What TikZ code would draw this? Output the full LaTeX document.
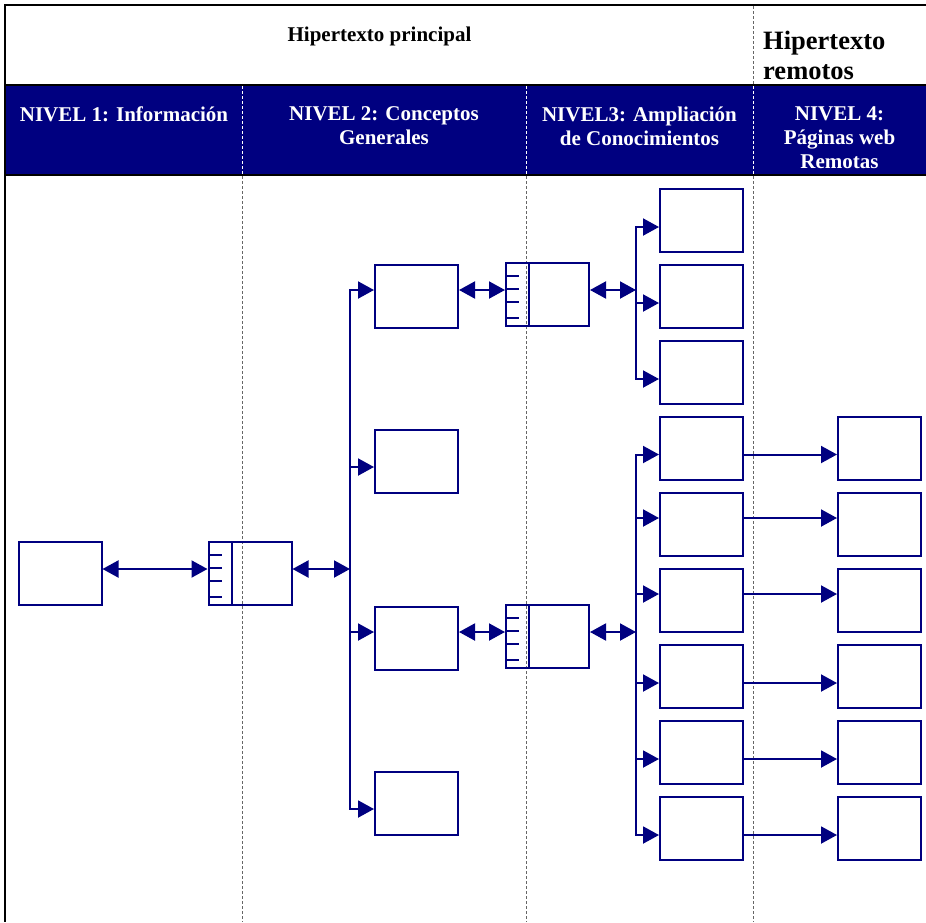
\documentclass[tikz,border=0pt]{standalone}
\usepackage{fontspec}
\setmainfont{Liberation Serif}
\usetikzlibrary{arrows.meta}
\definecolor{nivel}{RGB}{0,0,128}

\begin{document}
\begin{tikzpicture}[
    x=1pt, y=-1pt,
    font=\bfseries\fontsize{21}{24}\selectfont,
    >={Triangle[length=16pt,width=17pt]},
    pagebox/.style={draw=nivel, line width=2pt, minimum width=83pt,
        minimum height=63pt, inner sep=0pt},
    tabbox/.style={pagebox, path picture={
        \draw[nivel, line width=2pt] ([xshift=23pt]path picture bounding box.north west)
            -- ([xshift=23pt]path picture bounding box.south west);
        \foreach \ty in {13,26,39,55}
            \draw[nivel, line width=2pt] ([yshift=-\ty pt]path picture bounding box.north west) -- ++(13pt,0pt);
    }},
    link/.style={->, draw=nivel, line width=2pt},
    dlink/.style={<->, draw=nivel, line width=2pt},
    sep/.style={black!60, line width=0.8pt, dash pattern=on 3pt off 2pt},
    lvl/.style={text=white, align=center, inner sep=0pt},
]
\useasboundingbox (0,0) rectangle (926,922);

% === FRAME AND HEADER ===
\fill[nivel] (5,85) rectangle (926,175);
\draw[line width=2pt] (926,5) -- (5,5) -- (5,922);
\draw[line width=2pt] (5,85) -- (926,85);
\draw[line width=2pt] (5,175) -- (926,175);
\draw[sep] (753,6) -- (753,84);
\foreach \sx in {242,526,753} {
    \draw[sep, white] (\sx,86) -- (\sx,174);
    \draw[sep] (\sx,176) -- (\sx,922);
}

\node (principal) at (379.5,36) {Hipertexto principal};
\node[anchor=west, align=left, inner sep=0pt, font=\bfseries\fontsize{26.5}{30}\selectfont]
    (remotos) at (763,55) {Hipertexto\\remotos};

\node[lvl] (nivel1) at (124,114) {NIVEL 1: Información};
\node[lvl] (nivel2) at (384,126) {NIVEL 2: Conceptos\\Generales};
\node[lvl] (nivel3) at (639.5,126) {NIVEL3: Ampliación\\de Conocimientos};
\node[lvl] (nivel4) at (839.5,138) {NIVEL 4:\\Páginas web\\Remotas};

% === NIVEL 1 ===
\node[pagebox] (info) at (60,573) {};
\node[tabbox] (indice) at (250,573) {};
\coordinate (j2) at (350,569);
\draw[dlink] ([yshift=4pt]info.east) -- ([yshift=4pt]indice.west);
\draw[dlink] ([yshift=4pt]indice.east) -- (j2);

% === NIVEL 2 ===
\node[pagebox] (g1) at (416.5,296.5) {};
\node[pagebox] (g2) at (416.5,461.5) {};
\node[pagebox] (g3) at (416.5,638.5) {};
\node[pagebox] (g4) at (416.5,803.5) {};
\draw[link] (j2) |- ([yshift=6.5pt]g1.west);
\draw[link] (j2) |- ([yshift=-5.5pt]g2.west);
\draw[link] (j2) |- ([yshift=6.5pt]g3.west);
\draw[link] (j2) |- ([yshift=-5.5pt]g4.west);

% === NIVEL 3 ===
\node[tabbox] (t1) at (547.5,294.5) {};
\node[tabbox] (t2) at (547.5,636) {};
\coordinate (j3a) at (636,290);
\coordinate (j3b) at (636,632);
\draw[dlink] ([yshift=6.5pt]g1.east) -- ([yshift=4.5pt]t1.west);
\draw[dlink] ([yshift=4.5pt]t1.east) -- (j3a);
\draw[dlink] ([yshift=6.5pt]g3.east) -- ([yshift=4pt]t2.west);
\draw[dlink] ([yshift=4pt]t2.east) -- (j3b);

\node[pagebox] (c1) at (701.5,220.5) {};
\node[pagebox] (c2) at (701.5,296.5) {};
\node[pagebox] (c3) at (701.5,372.5) {};
\node[pagebox] (c4) at (701.5,448.5) {};
\node[pagebox] (c5) at (701.5,524.5) {};
\node[pagebox] (c6) at (701.5,600.5) {};
\node[pagebox] (c7) at (701.5,676.5) {};
\node[pagebox] (c8) at (701.5,752.5) {};
\node[pagebox] (c9) at (701.5,828.5) {};
\draw[link] (j3a) |- ([yshift=-6.5pt]c1.west);
\draw[link] (j3a) |- ([yshift=-6.5pt]c2.west);
\draw[link] (j3a) |- ([yshift=-6.5pt]c3.west);
\draw[link] (j3b) |- ([yshift=-6pt]c4.west);
\draw[link] (j3b) |- ([yshift=6.5pt]c5.west);
\draw[link] (j3b) |- ([yshift=6.5pt]c6.west);
\draw[link] (j3b) |- ([yshift=-6.5pt]c7.west);
\draw[link] (j3b) |- ([yshift=-6.5pt]c8.west);
\draw[link] (j3b) |- ([yshift=-6.5pt]c9.west);

% === NIVEL 4: remote pages ===
\node[pagebox] (r1) at (879.5,448.5) {};
\node[pagebox] (r2) at (879.5,524.5) {};
\node[pagebox] (r3) at (879.5,600.5) {};
\node[pagebox] (r4) at (879.5,676.5) {};
\node[pagebox] (r5) at (879.5,752.5) {};
\node[pagebox] (r6) at (879.5,828.5) {};
\draw[link] ([yshift=-6pt]c4.east) -- ([yshift=-6pt]r1.west);
\draw[link] ([yshift=6.5pt]c5.east) -- ([yshift=6.5pt]r2.west);
\draw[link] ([yshift=6.5pt]c6.east) -- ([yshift=6.5pt]r3.west);
\draw[link] ([yshift=-6.5pt]c7.east) -- ([yshift=-6.5pt]r4.west);
\draw[link] ([yshift=-6.5pt]c8.east) -- ([yshift=-6.5pt]r5.west);
\draw[link] ([yshift=-6.5pt]c9.east) -- ([yshift=-6.5pt]r6.west);

\end{tikzpicture}
\end{document}
